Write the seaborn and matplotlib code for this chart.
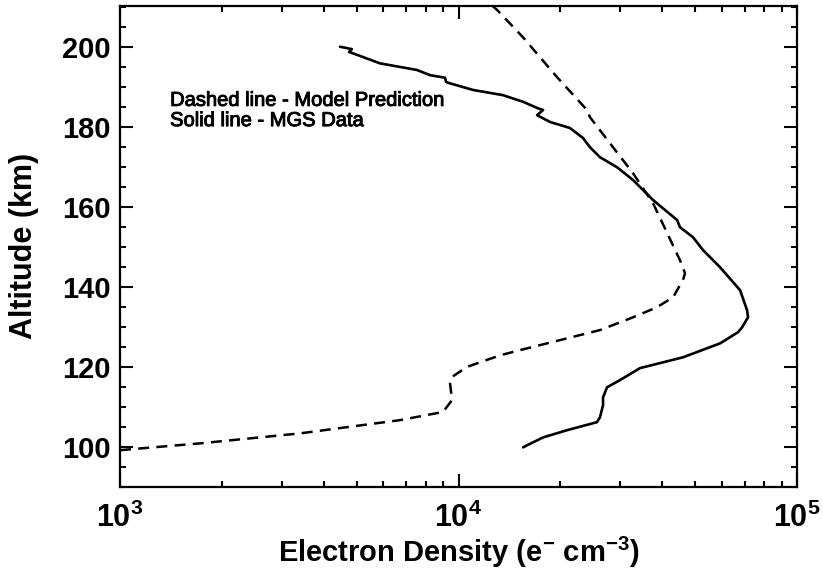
import matplotlib
matplotlib.use("Agg")
import matplotlib.pyplot as plt
import matplotlib.patheffects as pe
import seaborn as sns
import pandas as pd
import numpy as np
from matplotlib.ticker import FixedLocator, LogLocator, NullFormatter, MultipleLocator

# ---- data ----
model_alt = [99.2, 100.9, 103.4, 106.7, 108.75, 111.7, 115.9, 117.5, 120.0, 122.9, 124.2,
             126.7, 129.2, 132.4, 134.9, 137.4, 141.7, 143.4, 146.7, 160.9, 168.4, 174.9,
             182.4, 184.2, 192.4, 202.4, 209.2, 211.0]
model_dens = [1000, 1722, 3404, 6713, 8996, 9570, 9440, 9570, 10590, 13270, 15200,
              19950, 26170, 32780, 38550, 43040, 46030, 46690, 45090, 37560, 32780, 28600,
              24450, 23960, 19550, 15490, 13000, 12300]

mgs_alt = [200.0, 199.4, 198.7, 197.7, 195.85, 194.2, 192.9, 192.25, 191.2, 190.85, 189.2,
           187.9, 186.25, 184.6, 184.2, 182.9, 181.2, 179.7, 177.2, 174.9, 172.4, 169.9,
           166.7, 161.7, 156.7, 154.9, 152.4, 149.2, 144.9, 139.2, 134.2, 132.4, 129.9,
           128.7, 125.9, 122.4, 119.7, 116.7, 114.9, 112.4, 110.4, 107.4, 106.2, 104.2,
           102.4, 100.4, 99.9]
mgs_dens = [4467, 4842, 4750, 5117, 5860, 7530, 8240, 9125, 9190, 9440, 11040,
            13530, 15510, 17180, 17780, 17070, 18640, 21330, 23320, 24450, 26170, 29380,
            32780, 37560, 44240, 45120, 49300, 52760, 59250, 67870, 71190, 71670, 68830,
            67010, 59310, 46030, 34360, 29990, 27460, 26730, 26730, 26170, 25650, 20940,
            17790, 15920, 15520]

annot_lines = ["Dashed line - Model Prediction", "Solid line - MGS Data"]
x_major = [1e3, 1e4, 1e5]
x_major_labels = [r"$\mathbf{10^{3}}$", r"$\mathbf{10^{4}}$", r"$\mathbf{10^{5}}$"]
y_major = [100, 120, 140, 160, 180, 200]

sns.set_theme(style="white")
plt.rcParams["font.family"] = ["Liberation Sans", "DejaVu Sans"]
plt.rcParams["mathtext.fontset"] = "custom"
plt.rcParams["mathtext.rm"] = "Liberation Sans"
plt.rcParams["mathtext.bf"] = "Liberation Sans:bold"
plt.rcParams["mathtext.it"] = "Liberation Sans:italic"
plt.rcParams["text.color"] = "black"
plt.rcParams["axes.labelcolor"] = "black"
plt.rcParams["xtick.color"] = "black"
plt.rcParams["ytick.color"] = "black"

fig = plt.figure(figsize=(8.23, 5.70), dpi=100)
ax = fig.add_axes([120/823, 1-487/570, 677/823, 481.5/570])

df_model = pd.DataFrame({"dens": model_dens, "alt": model_alt})
df_mgs = pd.DataFrame({"dens": mgs_dens, "alt": mgs_alt})

sns.lineplot(data=df_model, x="dens", y="alt", sort=False, estimator=None, ax=ax,
             color="black", linewidth=1.8, linestyle=(0, (4.4, 2.9)))
sns.lineplot(data=df_mgs, x="dens", y="alt", sort=False, estimator=None, ax=ax,
             color="black", linewidth=1.9)

ax.set_xscale("log")
ax.set_xlim(1e3, 1e5)
ax.set_ylim(90, 210.3)

ax.xaxis.set_major_locator(FixedLocator(x_major))
ax.set_xticklabels(x_major_labels)
ax.xaxis.set_minor_locator(LogLocator(base=10, subs=np.arange(2, 10)))
ax.xaxis.set_minor_formatter(NullFormatter())
ax.yaxis.set_major_locator(FixedLocator(y_major))
ax.yaxis.set_minor_locator(MultipleLocator(5))

ax.tick_params(which="both", direction="in", top=True, right=True, bottom=True, left=True,
               color="black", labelcolor="black", width=1.5)
ax.tick_params(which="major", length=9.5)
ax.tick_params(which="minor", length=4.5)
ax.tick_params(axis="y", which="major", labelsize=21, pad=7)
ax.tick_params(axis="x", which="major", labelsize=22, pad=11)
for lab in ax.get_yticklabels():
    lab.set_fontweight("bold")

for s in ax.spines.values():
    s.set_color("black")
    s.set_linewidth(1.6)

ax.set_xlabel(r"Electron Density (e$^{\mathbf{-}}$ cm$^{\mathbf{-3}}$)", fontsize=21,
              fontweight="bold", color="black")
ax.set_ylabel("Altitude (km)", fontsize=22, fontweight="bold", color="black")
ax.xaxis.set_label_coords(0.5, -0.1)
ax.yaxis.set_label_coords(-0.12, 0.5)

for i, t in enumerate(annot_lines):
    ax.text(0.074, 0.803 - 0.042 * i, t, transform=ax.transAxes, fontsize=14.5,
            ha="left", va="center", color="black",
            path_effects=[pe.withStroke(linewidth=0.7, foreground="black")])

fig.savefig("out.png", dpi=100)
